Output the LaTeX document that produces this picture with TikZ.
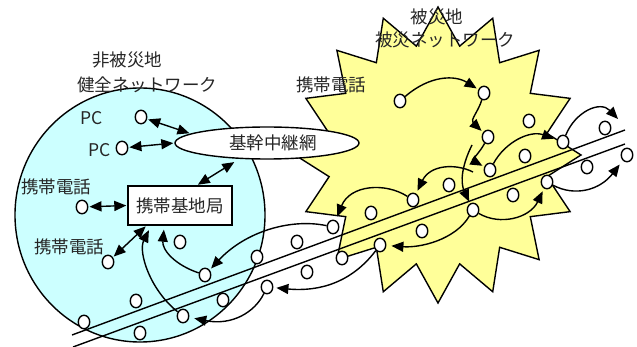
\documentclass[tikz,border=0pt]{standalone}
\usepackage{fontspec}
\setmainfont{Noto Sans CJK JP}
\usetikzlibrary{shapes.geometric,arrows.meta}
\definecolor{skyfill}{HTML}{CCFFFF}
\definecolor{starfill}{HTML}{FFFF99}
\begin{document}
\begin{tikzpicture}[x=1pt,y=-1pt,
  every node/.style={font=\fontsize{17.5pt}{20pt}\selectfont},
  dot/.style={ellipse, draw, fill=white, line width=1.4pt, minimum width=11.5pt, minimum height=13.5pt, inner sep=0pt},
  box/.style={draw, fill=white, line width=1.4pt, inner sep=0pt},
  lbl/.style={inner sep=0pt, text=black!85},
  ln/.style={line width=1.4pt},
  arr/.style={line width=1.4pt, -{Triangle[length=12pt,width=10pt]}, shorten >=2pt},
  dbl/.style={line width=1.4pt, {Triangle[length=12pt,width=10pt]}-{Triangle[length=12pt,width=10pt]}, shorten >=1pt, shorten <=1pt}]
\useasboundingbox (0,0) rectangle (637,347);

% healthy network area
\filldraw[fill=skyfill, line width=1.4pt] (140,215) ellipse [x radius=125, y radius=127];

% disaster area star (16 points)
\filldraw[fill=starfill, line width=1.4pt]
  plot[samples=33, domain=0:32, variable=\k]
  ({438+(127+16*cos(180*\k))*cos(90+11.25*\k)}, {155-(129.5+18.5*cos(180*\k))*sin(90+11.25*\k)}) -- cycle;

% backbone and base station
\node[box, ellipse, minimum width=184pt, minimum height=32pt, text=black!85] (ell) at (267,143) {\hspace{12pt}基幹中継網};
\node[box, minimum width=104pt, minimum height=39pt, text=black!85] (rect) at (180,205.5) {携帯基地局};

% road lines
\coordinate (l1a) at (72,335);
\coordinate (l1b) at (625,130);
\coordinate (l2a) at (73,347);
\coordinate (l2b) at (625,144);
\draw[ln] (l1a) -- (l1b);
\draw[ln] (l2a) -- (l2b);

% terminals
\node[dot] (c1) at (141,117) {};
\node[dot] (c2) at (122,148) {};
\node[dot] (c3) at (82,207) {};
\node[dot] (c4) at (108,262) {};
\node[dot] (c5) at (180,242) {};
\node[dot] (c6) at (205,275) {};
\node[dot] (c7) at (257,257) {};
\node[dot] (c8) at (136,301) {};
\node[dot] (c9) at (84,322) {};
\node[dot] (c10) at (140,333) {};
\node[dot] (c11) at (183,316) {};
\node[dot] (c12) at (223,300) {};
\node[dot] (c13) at (297,242) {};
\node[dot] (c14) at (267,287) {};
\node[dot] (c15) at (307,272) {};
\node[dot] (c16) at (333,227) {};
\node[dot] (c17) at (342,258) {};
\node[dot] (c18) at (371,213) {};
\node[dot] (c19) at (380,245) {};
\node[dot] (c20) at (413,200) {};
\node[dot] (c21) at (422,231) {};
\node[dot] (c22) at (449,185) {};
\node[dot] (c23) at (473,210) {};
\node[dot] (c24) at (513,195) {};
\node[dot] (c25) at (490,170) {};
\node[dot] (c26) at (525,156) {};
\node[dot] (c27) at (547,182) {};
\node[dot] (c28) at (587,167) {};
\node[dot] (c29) at (627,155) {};
\node[dot] (c30) at (400,101) {};
\node[dot] (c31) at (484,93) {};
\node[dot] (c32) at (488,137) {};
\node[dot] (c33) at (529,121) {};
\node[dot] (c34) at (563,142) {};
\node[dot] (c35) at (605,128) {};

% free ends
\coordinate (e15) at (618,119);
\coordinate (s16) at (472,145);
\coordinate (s17) at (473,172);

% healthy-side links
\draw[dbl] (c1) -- (ell.173);
\draw[dbl] (c2) -- (ell.west);
\draw[dbl, shorten >=6pt] (rect.50) -- (ell.210);
\draw[dbl] (c3) -- (rect.west);
\draw[dbl] (c4) -- (rect.211);
\draw[arr, shorten >=4pt] (c6) .. controls (175,265) and (162,250) .. (rect.232);
\draw[arr, shorten >=5pt] (c11) .. controls (150,290) and (138,252) .. (rect.215);
\draw[arr] (c16) .. controls (290,218) and (245,232) .. (c6);
\draw[arr, shorten >=3pt] (c19) .. controls (352,282) and (320,292) .. (c14);
\draw[arr, shorten >=5pt] (c14) .. controls (255,312) and (232,326) .. (c11);

% disaster-side relay
\draw[arr] (c30) .. controls (430,75) and (455,75) .. (c31);
\draw[arr] (c31) .. controls (478,112) and (470,120) .. (c32);
\draw[arr] (c32) .. controls (480,152) and (472,160) .. (c25);
\draw[arr, shorten >=3pt] (c25) .. controls (505,142) and (530,130) .. (c34);
\draw[arr, shorten >=0pt] (c34) .. controls (575,112) and (600,100) .. (e15);
\draw[arr] (s16) .. controls (462,165) and (460,182) .. (c23);
\draw[arr, shorten >=3pt] (s17) .. controls (455,163) and (430,165) .. (c20);
\draw[arr, shorten >=4pt] (c20) .. controls (385,182) and (350,185) .. (c16);
\draw[arr, shorten >=3pt] (c23) .. controls (500,226) and (530,218) .. (c27);
\draw[arr, shorten >=5pt] (c23) .. controls (455,240) and (420,248) .. (c19);
\draw[arr, shorten >=5pt] (c27) .. controls (575,197) and (600,190) .. (c29);

% labels
\node[lbl] (t1) at (127,60) {非被災地};
\node[lbl] (t2) at (147,85) {健全ネットワーク};
\node[lbl] (t3) at (92,118) {PC};
\node[lbl] (t4) at (100,150) {PC};
\node[lbl] (t5) at (56,187) {携帯電話};
\node[lbl] (t6) at (69,247) {携帯電話};
\node[lbl] (t7) at (437,17) {被災地};
\node[lbl] (t8) at (445,40) {被災ネットワーク};
\node[lbl] (t9) at (331,85) {携帯電話};
\end{tikzpicture}
\end{document}
